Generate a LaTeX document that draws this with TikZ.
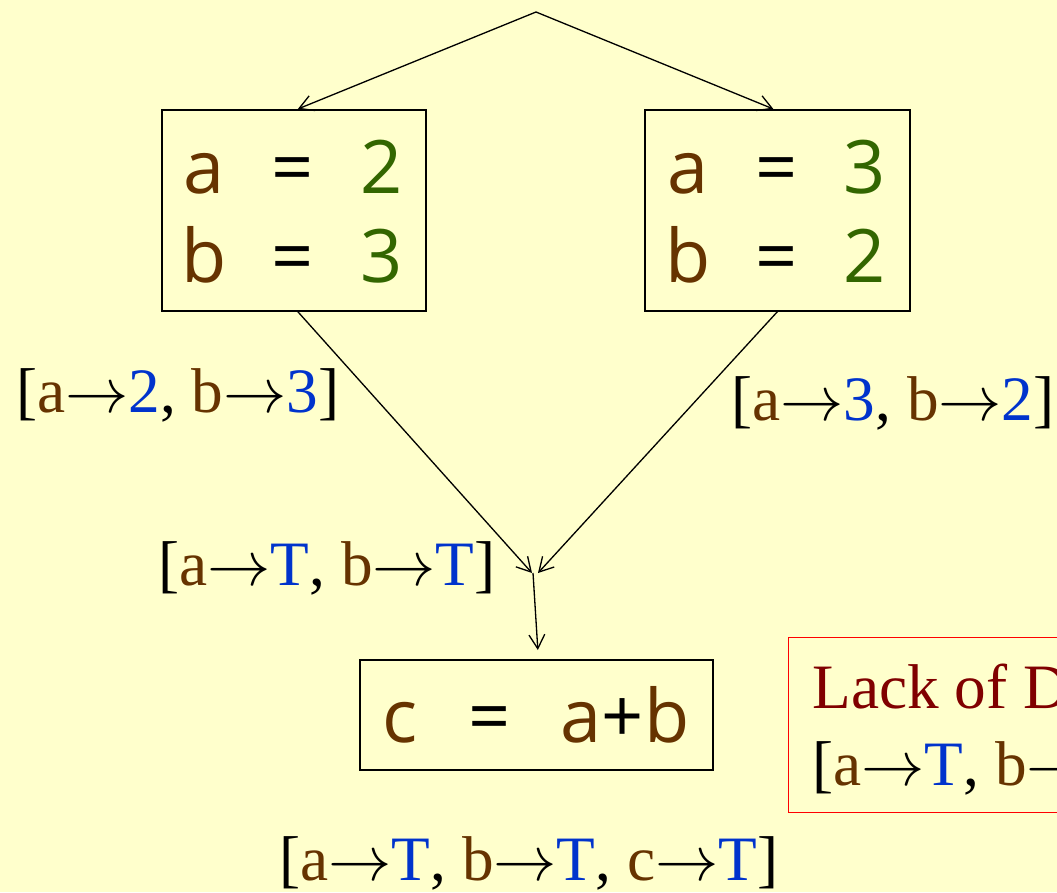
\RequirePackage{fix-cm}
\documentclass[tikz,border=0pt]{standalone}
\usepackage{fontspec}
\setmainfont{Liberation Serif}
\newfontfamily\boxfont{Open Sans}
\usetikzlibrary{arrows.meta}
\definecolor{bg}{HTML}{FFFFCC}
\definecolor{brn}{HTML}{663300}
\definecolor{grn}{HTML}{336600}
\definecolor{blu}{HTML}{0033CC}
\definecolor{dred}{HTML}{800000}
\newcommand\mto{\textcolor{black}{$\rightarrow$}}
\newcommand\vA{\textcolor{brn}{a}}
\newcommand\vB{\textcolor{brn}{b}}
\newcommand\vC{\textcolor{brn}{c}}
\newcommand\vb[1]{\textcolor{blu}{#1}}
\tikzset{
  codebox/.style={draw=black, line width=1pt, fill=none, inner sep=0pt, anchor=north west},
  code/.style={anchor=base, inner sep=0pt, font=\boxfont\fontsize{42}{50}\selectfont},
  lbl/.style={anchor=base west, inner sep=0pt, font=\fontsize{36}{43}\selectfont},
  arr/.style={line width=0.75pt, -{Straight Barb[length=8pt,width=9pt,line width=0.75pt]}},
}
\begin{document}
\begin{tikzpicture}[x=0.02cm,y=-0.02cm]
\fill[bg] (0,0) rectangle (1057,892);
\useasboundingbox (0,0) rectangle (1057,892);
\clip (0,0) rectangle (1057,892);

% boxes
\node[codebox, minimum width=5.28cm, minimum height=4.02cm] (lbox) at (161,109) {};
\node[codebox, minimum width=5.30cm, minimum height=4.02cm] (rbox) at (644,109) {};
\node[codebox, minimum width=7.06cm, minimum height=2.20cm] (cbox) at (359,659) {};

% left box text
\node[code, text=brn] (la) at (204,193) {a};
\node[code, text=black] (le1) at (293,193) {=};
\node[code, text=grn] (l2) at (382,193) {2};
\node[code, text=brn] (lb) at (204,282) {b};
\node[code, text=black] (le2) at (293,282) {=};
\node[code, text=grn] (l3) at (382,282) {3};

% right box text
\node[code, text=brn] (ra) at (688,193) {a};
\node[code, text=black] (re1) at (777,193) {=};
\node[code, text=grn] (r3) at (865,193) {3};
\node[code, text=brn] (rb) at (688,282) {b};
\node[code, text=black] (re2) at (777,282) {=};
\node[code, text=grn] (r2) at (865,282) {2};

% bottom box text
\node[code, text=brn] (cc) at (400,742) {c};
\node[code, text=black] (ce) at (490,742) {=};
\node[code, text=brn] (cab) at (625,742) {a\textcolor{black}{+}b};

% connectors
\coordinate (top) at (536,12);
\coordinate (j) at (535,573);
\draw[arr] (top) -- ([xshift=0.08cm]lbox.north);
\draw[arr] (top) -- ([xshift=-0.08cm]rbox.north);
\draw[arr] ([xshift=0.08cm]lbox.south) -- ([xshift=-0.06cm]j);
\draw[arr] (rbox.south) -- ([xshift=0.06cm]j);
\draw[arr] ([xshift=-0.04cm]j) -- ([xshift=0.03cm,yshift=0.18cm]cbox.north);

% labels
\node[lbl] (lblL) at (16,412) {[\vA\mto\vb{2}, \vB\mto\vb{3}]};
\node[lbl] (lblR) at (731,420) {[\vA\mto\vb{3}, \vB\mto\vb{2}]};
\node[lbl] (lblJ) at (158,585) {[\vA\mto\vb{T}, \vB\mto\vb{T}]};
\node[lbl] (lblOut) at (279,880) {[\vA\mto\vb{T}, \vB\mto\vb{T}, \vC\mto\vb{T}]};

% lack of distributivity box
\node[draw=red, line width=0.6pt, inner sep=0pt, anchor=north west, minimum width=12cm, minimum height=3.5cm] (lack) at (788,637) {};
\node[lbl, text=dred] (lackT) at (812,708) {Lack of Distributivity};
\node[lbl] (lackL) at (812,785) {[\vA\mto\vb{T}, \vB\mto\vb{T}]};
\end{tikzpicture}
\end{document}
